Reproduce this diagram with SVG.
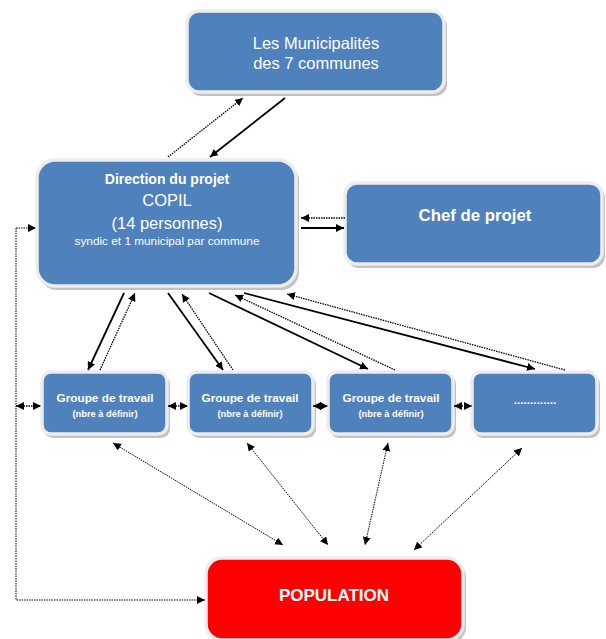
<svg xmlns="http://www.w3.org/2000/svg" width="606" height="639" viewBox="0 0 606 639">
<defs>
<style>
.shadow{fill:#a9a9a9;opacity:0.7}
.box{fill:#4F81BD;stroke:#ededed;stroke-width:3.5}
.red{fill:#FF0000;stroke:#ededed;stroke-width:3.5}
text{font-family:"Liberation Sans",Arial,sans-serif;fill:#ffffff;text-anchor:middle}
.b{font-weight:bold}
.solid{fill:none;stroke:#000;stroke-width:1.8}
.dot{fill:none;stroke:#000;stroke-width:1.3;stroke-dasharray:1.5,1}
.thin{fill:none;stroke:#000;stroke-width:1;stroke-dasharray:1.5,1}
</style>
<marker id="ah" viewBox="0 0 10 10" refX="10" refY="5" markerWidth="8" markerHeight="8" markerUnits="userSpaceOnUse" orient="auto-start-reverse">
<path d="M0,0 L10,5 L0,10 z" fill="#000"/>
</marker>
</defs>

<g id="municipalites">
<rect class="shadow" x="189" y="14" width="258" height="82" rx="12"/>
<rect class="box" x="187" y="11" width="257" height="81" rx="12"/>
<text x="316" y="49" font-size="16.5">Les Municipalités</text>
<text x="316" y="69" font-size="16.5">des 7 communes</text>
</g>

<g id="direction">
<rect class="shadow" x="39" y="163" width="260" height="127" rx="18"/>
<rect class="box" x="37" y="160" width="259" height="126" rx="18"/>
<text class="b" x="167" y="184" font-size="14">Direction du projet</text>
<text x="167" y="206" font-size="16.5">COPIL</text>
<text x="167" y="229" font-size="16.5">(14 personnes)</text>
<text x="167" y="245" font-size="11.8">syndic et 1 municipal par commune</text>
</g>

<g id="chef">
<rect class="shadow" x="347" y="186" width="258" height="82" rx="12"/>
<rect class="box" x="345" y="183" width="257" height="81" rx="12"/>
<text class="b" x="475" y="221" font-size="16.8">Chef de projet</text>
</g>

<g id="groupe1">
<rect class="shadow" x="44" y="375" width="126" height="63" rx="9"/>
<rect class="box" x="42" y="372" width="125" height="62" rx="9"/>
<text class="b" x="105" y="402" font-size="11.8">Groupe de travail</text>
<text class="b" x="105" y="417" font-size="9.3">(nbre à définir)</text>
</g>

<g id="groupe2">
<rect class="shadow" x="190" y="375" width="126" height="63" rx="9"/>
<rect class="box" x="188" y="372" width="125" height="62" rx="9"/>
<text class="b" x="250" y="402" font-size="11.8">Groupe de travail</text>
<text class="b" x="250" y="417" font-size="9.3">(nbre à définir)</text>
</g>

<g id="groupe3">
<rect class="shadow" x="330" y="375" width="126" height="63" rx="9"/>
<rect class="box" x="328" y="372" width="125" height="62" rx="9"/>
<text class="b" x="391" y="402" font-size="11.8">Groupe de travail</text>
<text class="b" x="391" y="417" font-size="9.3">(nbre à définir)</text>
</g>

<g id="groupe4">
<rect class="shadow" x="474" y="375" width="126" height="63" rx="9"/>
<rect class="box" x="472" y="372" width="125" height="62" rx="9"/>
<text class="b" x="535" y="404" font-size="11.8">.............</text>
</g>

<g id="population">
<rect class="shadow" x="208" y="561" width="258" height="82" rx="16"/>
<rect class="red" x="206" y="558" width="257" height="82" rx="16"/>
<text class="b" x="334" y="601" font-size="17">POPULATION</text>
</g>

<g id="connectors">
<path class="solid" d="M285,98 L210,157" marker-end="url(#ah)"/>
<path class="dot" d="M168,157 L243,98" marker-end="url(#ah)"/>
<path class="dot" d="M345,218 L301,218" marker-end="url(#ah)"/>
<path class="solid" d="M301,228 L344,228" marker-end="url(#ah)"/>

<path class="solid" d="M124,293 L88,370" marker-end="url(#ah)"/>
<path class="dot" d="M100,370 L135,293" marker-end="url(#ah)"/>
<path class="solid" d="M168,293 L223,370" marker-end="url(#ah)"/>
<path class="dot" d="M233,370 L182,294" marker-end="url(#ah)"/>
<path class="solid" d="M209,293 L368,369" marker-end="url(#ah)"/>
<path class="dot" d="M395,370 L235,295" marker-end="url(#ah)"/>
<path class="solid" d="M244,293 L535,369" marker-end="url(#ah)"/>
<path class="dot" d="M565,370 L287,294" marker-end="url(#ah)"/>

<path class="dot" d="M16,406 L41,406" marker-start="url(#ah)" marker-end="url(#ah)"/>
<path class="dot" d="M168,406 L188,406" marker-start="url(#ah)" marker-end="url(#ah)"/>
<path class="dot" d="M313,406 L328,406" marker-start="url(#ah)" marker-end="url(#ah)"/>
<path class="dot" d="M454,406 L472,406" marker-start="url(#ah)" marker-end="url(#ah)"/>

<path class="thin" d="M16,228 L36,228" marker-end="url(#ah)"/>
<path class="thin" d="M16,228 L16,600 L205,600" marker-end="url(#ah)"/>

<path class="thin" d="M113,443 L283,545" marker-start="url(#ah)" marker-end="url(#ah)"/>
<path class="thin" d="M247,443 L328,545" marker-start="url(#ah)" marker-end="url(#ah)"/>
<path class="thin" d="M388,443 L365,545" marker-start="url(#ah)" marker-end="url(#ah)"/>
<path class="thin" d="M522,448 L414,550" marker-start="url(#ah)" marker-end="url(#ah)"/>
</g>
</svg>
